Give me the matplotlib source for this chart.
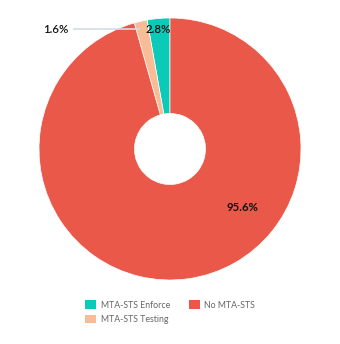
import matplotlib
matplotlib.use("Agg")
import matplotlib.pyplot as plt
from matplotlib.patches import Patch

categories = ["MTA-STS Enforce", "MTA-STS Testing", "No MTA-STS"]
values = [2.8, 1.6, 95.6]
labels = ["2.8%", "1.6%", "95.6%"]
colors = ["#0ccab8", "#f8bd97", "#ea5849"]

plt.rcParams['font.family'] = ['Lato', 'DejaVu Sans']

fig = plt.figure(figsize=(3.4, 3.44), dpi=100)
W, H = 340, 344
cx, cy, R = 170, 149, 131
ax = fig.add_axes([(cx - R) / W, (H - cy - R) / H, 2 * R / W, 2 * R / H])

wedges, _ = ax.pie(values, colors=colors, startangle=90, counterclock=True,
                   radius=1, wedgeprops=dict(width=1 - 35.5 / R, edgecolor='white', linewidth=0.5))
ax.set_xlim(-1, 1)
ax.set_ylim(-1, 1)
ax.set_aspect('equal')
ax.axis('off')

# labels
ax.text(-0.092, 0.912, labels[0], ha='center', va='center', fontsize=8.2, color='#111111', fontweight='semibold')
ax.text(-0.87, 0.912, labels[1], ha='center', va='center', fontsize=8.2, color='#111111', fontweight='semibold')
ax.plot([-0.74, -0.23], [0.916, 0.916], color='#d3dbe6', lw=1.2, solid_capstyle='butt')
ax.text(0.557, -0.45, labels[2], ha='center', va='center', fontsize=8.2, color='#111111', fontweight='bold')

handles = [Patch(facecolor=c, edgecolor='none') for c in colors]
leg = fig.legend(handles, categories, ncol=2, loc='upper left',
                 bbox_to_anchor=(81 / W, 1 - 296 / H), frameon=False,
                 fontsize=6.3, labelcolor='#666666', handlelength=1.2, handleheight=1.1,
                 handletextpad=0.55, columnspacing=2.2, labelspacing=0.6, borderpad=0)

fig.savefig("out.png", dpi=100, facecolor='white')
